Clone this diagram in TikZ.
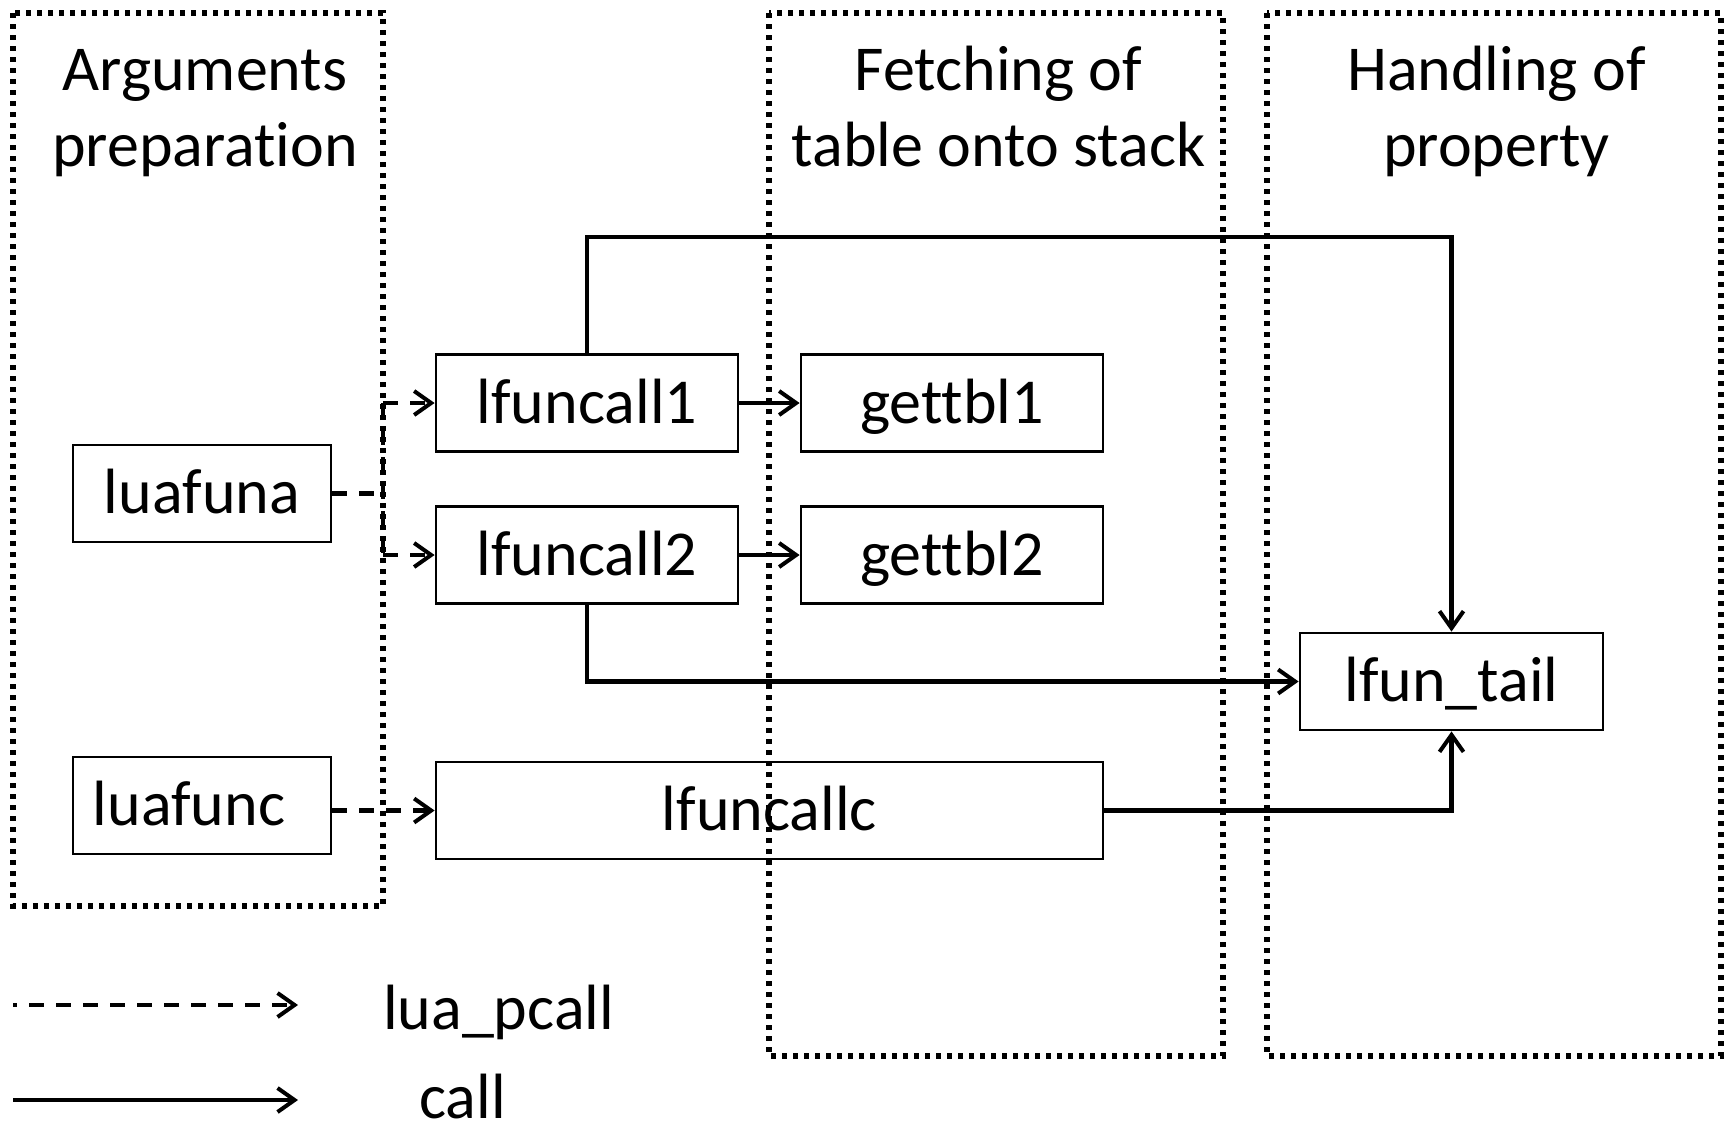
\documentclass[tikz,border=0pt]{standalone}
\usepackage{fontspec}
\setmainfont{Carlito}[Ligatures=NoCommon]
\usetikzlibrary{arrows.meta}
\begin{document}
\begin{tikzpicture}[x=1pt,y=-1pt,
  every node/.style={font=\fontsize{64}{72}\selectfont, inner sep=0pt},
  fbox/.style={draw, line width=2.8pt, minimum height=97pt, text height=42pt, text depth=2pt},
  region/.style={line width=5.2pt, dash pattern=on 4.8pt off 6.2pt},
  pcall/.style={line width=4.6pt, dash pattern=on 15pt off 12pt},
  callline/.style={line width=4.4pt},
  tip/.style={-{Straight Barb[length=17pt,width=24pt,line width=4pt]}},
]
\useasboundingbox[fill=white] (0,0) rectangle (1728,1130);

% regions
\draw[region] (13,13) rectangle (383,906);
\draw[region] (769,13) rectangle (1223,1056);
\draw[region] (1267,13) rectangle (1721,1056);

% region titles
\node[anchor=base] (t1a) at (205,90) {Arguments};
\node[anchor=base] (t1b) at (205,166) {preparation};
\node[anchor=base] (t2a) at (998.5,90) {Fetching of};
\node[anchor=base] (t2b) at (998.5,166) {table onto stack};
\node[anchor=base] (t3a) at (1496.5,90) {Handling of};
\node[anchor=base] (t3b) at (1496.5,166) {property};

% function boxes
\node[fbox, minimum width=258pt] (luafuna) at (202,493.5) {luafuna};
\node[fbox, minimum width=258pt] (luafunc) at (202,805.5) {luafunc\hspace*{26pt}};
\node[fbox, minimum width=302pt] (lfuncall1) at (587,403) {lfuncall1};
\node[fbox, minimum width=302pt] (lfuncall2) at (587,555) {lfuncall2};
\node[fbox, minimum width=302pt] (gettbl1) at (952,403) {gettbl1};
\node[fbox, minimum width=302pt] (gettbl2) at (952,555) {gettbl2};
\node[fbox, minimum width=667pt] (lfuncallc) at (769.5,810.5) {lfuncallc};
\node[fbox, minimum width=303pt] (lfuntail) at (1451.5,681.5) {lfun\_tail};

% junction points
\coordinate (ja) at (383,403);
\coordinate (jb) at (383,555);
\coordinate (topc) at (1451.5,237);

% lua_pcall connectors
\draw[pcall] (luafuna.east) -- (luafuna.east -| ja);
\draw[pcall] (ja) -- (jb);
\draw[pcall,tip] (ja) -- (lfuncall1.west);
\draw[pcall,tip] (jb) -- (lfuncall2.west);
\draw[pcall,tip] (luafunc.east |- lfuncallc.west) -- (lfuncallc.west);

% call connectors
\draw[callline,tip] (lfuncall1.east) -- (gettbl1.west);
\draw[callline,tip] (lfuncall2.east) -- (gettbl2.west);
\draw[callline,tip] (lfuncall1.north) |- (topc) -- (lfuntail.north);
\draw[callline,tip] (lfuncall2.south) |- (lfuntail.west);
\draw[callline,tip] (lfuncallc.east) -| (lfuntail.south);

% legend
\coordinate (l1s) at (13,1005);
\coordinate (l1e) at (298,1005);
\coordinate (l2s) at (13,1100);
\coordinate (l2e) at (298,1100);
\draw[pcall,tip,dash phase=11pt] (l1s) -- (l1e);
\draw[callline,tip] (l2s) -- (l2e);
\node[anchor=base west] (lg1) at (383,1029) {lua\_pcall};
\node[anchor=base west] (lg2) at (419,1118) {call};
\end{tikzpicture}
\end{document}
